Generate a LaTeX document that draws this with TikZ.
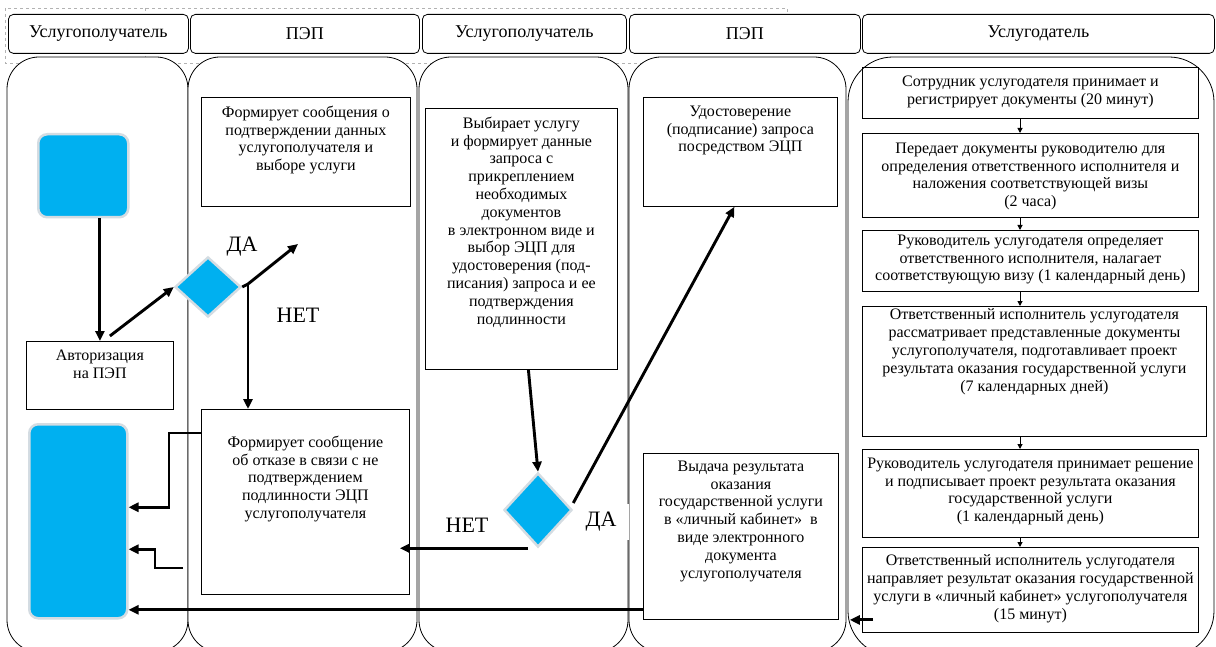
\documentclass[tikz,border=0pt]{standalone}
\usepackage{fontspec}
\setmainfont{Liberation Serif}
\usetikzlibrary{positioning,shapes.geometric,arrows.meta}
\definecolor{cyanq}{RGB}{0,176,240}
\definecolor{glow}{RGB}{212,220,226}
\newcommand{\tb}[4]{\parbox[c][#2pt][t]{#1pt}{\centering\vspace*{#3pt}#4\par}} % 文本框: 宽, 高, 上边距, 文本
\begin{document}
\begin{tikzpicture}[x=1pt,y=-1pt,
    box/.style={draw,line width=0.8pt,inner sep=0pt,anchor=north west,font=\fontsize{16}{17.8}\selectfont},
    head/.style={draw,line width=0.8pt,fill=white,rounded corners=5pt,anchor=north west,minimum height=39pt,inner sep=0pt,font=\fontsize{18}{20}\selectfont},
    lane/.style={draw,line width=0.8pt,fill=white,rounded corners=32pt},
    blk/.style={draw=glow,line width=2.5pt,fill=cyanq,rounded corners=9pt,anchor=north west,inner sep=0pt},
    dia/.style={diamond,draw=glow,line width=2.5pt,fill=cyanq,inner sep=0pt},
    yn/.style={font=\fontsize{22}{24}\selectfont,inner sep=1pt},
    arr/.style={-{Triangle[length=10pt,width=9pt]},line width=2.9pt},
    sarr/.style={-{Triangle[length=5pt,width=5pt]},line width=1pt}]
    \clip (0,0) rectangle (1216,647);
    \draw[gray!60,dashed,line width=0.5pt] (5,8) rectangle (787,63); % 虚线框
    \draw[gray!60,dashed,line width=0.5pt] (145,8) -- (145,63);
    \foreach \xa/\xb in {7/188,188/417,419/628,629/846}
        \draw[lane] (\xa,57) rectangle (\xb,652); % 泳道
    \draw[lane,rounded corners=45pt] (848,57) rectangle (1214,656);
    % 表头
    \node[head,minimum width=180pt] (h1) at (8,14) {Услугополучатель};
    \node[head,minimum width=229pt] (h2) at (190,14) {ПЭП};
    \node[head,minimum width=204pt] (h3) at (422,14) {Услугополучатель};
    \node[head,minimum width=231pt] (h4) at (629,14) {ПЭП};
    \node[head,minimum width=352pt] (h5) at (862,14) {Услугодатель};
    % 标签
    \node[yn] (lda1) at (242,247) {ДА};
    \node[yn] (lnet1) at (298,315) {НЕТ};
    \node[yn] (lnet2) at (467,525) {НЕТ};
    \node[yn,fill=white,minimum width=56pt,minimum height=36pt] (lda2) at (601,522) {ДА};
    % 开始, 结束
    \node[blk,minimum width=90pt,minimum height=83pt] (start) at (37,133) {};
    \node[blk,minimum width=98pt,minimum height=194pt] (stop) at (28,423) {};
    \node[dia,minimum width=66pt,minimum height=60pt] (d1) at (208,287) {};
    \node[dia,minimum width=68pt,minimum height=74pt] (d2) at (538,510) {};
    % 步骤
    \node[box] (auth) at (26,341) {\tb{147}{68}{8.5}{Авторизация\\на ПЭП}};
    \node[box] (msg) at (201,97) {\tb{209}{109}{8.5}{Формирует сообщения о\\подтверждении данных\\услугополучателя и\\выборе услуги}};
    \node[box] (refuse) at (201,409) {\tb{208}{185}{26.5}{Формирует сообщение\\об отказе в связи с не\\подтверждением\\подлинности ЭЦП\\услугополучателя}};
    \node[box] (choose) at (425,108) {\tb{192}{261}{8.5}{Выбирает услугу\\и формирует данные\\запроса с\\прикреплением\\необходимых\\документов\\в электронном виде и\\выбор ЭЦП для\\удостоверения (под-\\писания) запроса и ее\\подтверждения\\подлинности}};
    \node[box] (sign) at (643,97) {\tb{194}{109}{8.5}{Удостоверение\\(подписание) запроса\\посредством ЭЦП}};
    \node[box] (issue) at (643,453) {\tb{195}{166}{7.5}{Выдача результата\\оказания\\государственной услуги\\в «личный кабинет»\ \ в\\виде электронного\\документа\\услугополучателя}};
    \node[box] (B1) at (862,67) {\tb{336}{51}{8.5}{Сотрудник услугодателя принимает и\\регистрирует документы (20 минут)}};
    \node[box] (B2) at (862,133) {\tb{336}{84}{9.5}{Передает документы руководителю для\\определения ответственного исполнителя и\\наложения соответствующей визы\\(2 часа)}};
    \node[box] (B3) at (862,230) {\tb{336}{61}{4.5}{Руководитель услугодателя определяет\\ответственного исполнителя, налагает\\соответствующую визу (1 календарный день)}};
    \node[box] (B4) at (862,306) {\tb{344}{130}{2.5}{Ответственный исполнитель услугодателя\\рассматривает представленные документы\\услугополучателя, подготавливает проект\\результата оказания государственной услуги\\(7 календарных дней)}};
    \node[box] (B5) at (862,449) {\tb{336}{88}{8.5}{Руководитель услугодателя принимает решение\\и подписывает проект результата оказания\\государственной услуги\\(1 календарный день)}};
    \node[box] (B6) at (862,547) {\tb{336}{85}{7.5}{Ответственный исполнитель услугодателя\\направляет результат оказания государственной\\услуги в «личный кабинет» услугополучателя\\(15 минут)}};
    % 箭头
    \coordinate (j1) at (248,284);
    \coordinate (da1) at (298,244);
    \coordinate (r2) at (183,568);
    \draw[arr] (auth.north |- start.south) -- (auth.north);
    \draw[arr] ([xshift=10pt,yshift=5pt]auth.north) -- (d1.west);
    \draw[arr] (d1.east) -- (j1) -- (da1);
    \draw[arr] (j1) -- (j1 |- refuse.north);
    \draw[arr] ([yshift=-24pt]refuse.north west) -- ++(-32,0) |- ([yshift=14pt]stop.east);
    \draw[arr] (r2) -- ++(-28,0) |- ([yshift=-28pt]stop.east);
    \draw[arr] ([xshift=7pt]choose.south) -- (d2.north);
    \draw[arr] ([yshift=7pt]d2.east) -- ([xshift=-6pt]sign.south);
    \draw[arr] ([xshift=-10pt]d2.south) -- ([xshift=-10pt]d2.south -| refuse.east);
    \draw[arr] ([yshift=10pt]issue.south west) -- ([yshift=10pt]issue.south west -| stop.east);
    \draw[arr] ([xshift=11pt,yshift=-30pt]B6.west) -- ([xshift=11pt,yshift=-30pt]B6.west -| issue.east);
    \foreach \a/\b in {B1/B2,B2/B3,B3/B4,B4/B5,B5/B6}
        \draw[sarr] (1020,0 |- \a.south) -- (1020,0 |- \b.north);
\end{tikzpicture}
\end{document}
